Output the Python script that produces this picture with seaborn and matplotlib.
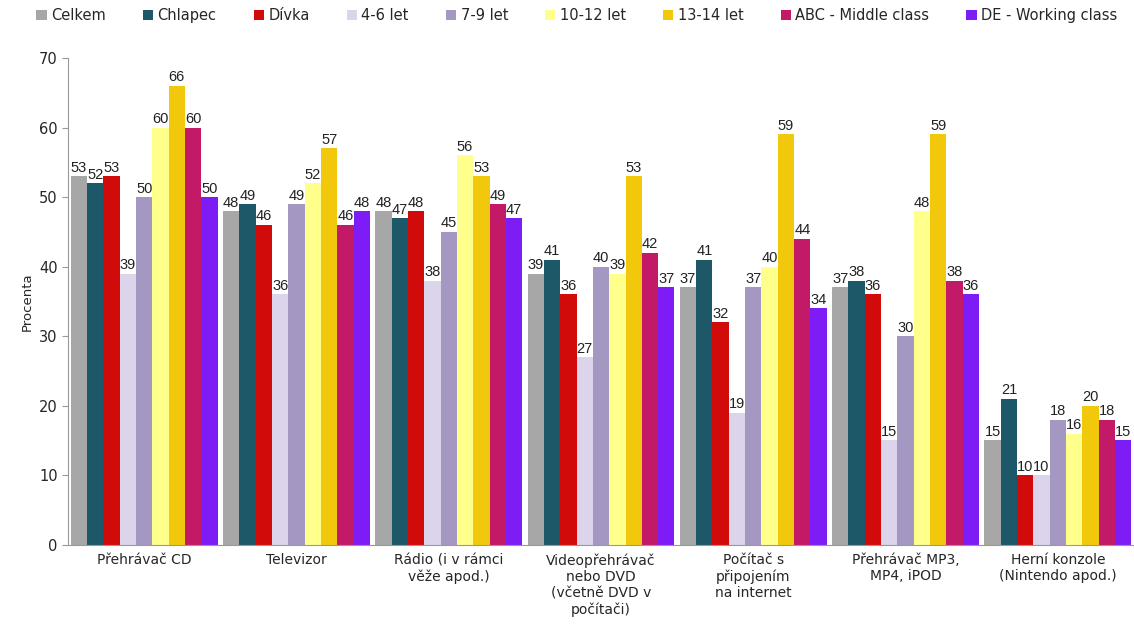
import pandas as pd
import matplotlib.pyplot as plt
import seaborn as sns
import numpy as np

# Data
categories = ['Přehrávač CD', 'Televizor', 'Rádio (i v rámci\nvěže apod.)',
              'Videopřehrávač\nnebo DVD\n(včetně DVD v\npočítači)',
              'Počítač s\npřipojením\nna internet', 'Přehrávač MP3,\nMP4, iPOD',
              'Herní konzole\n(Nintendo apod.)']
groups = ['Celkem', 'Chlapec', 'Dívka', '4-6 let', '7-9 let', '10-12 let',
          '13-14 let', 'ABC - Middle class', 'DE - Working class']

celkem = [53, 48, 48, 39, 37, 37, 15]
chlapec = [52, 49, 47, 41, 41, 38, 21]
divka = [53, 46, 48, 36, 32, 36, 10]
let_4_6 = [39, 36, 38, 27, 19, 15, 10]
let_7_9 = [50, 49, 45, 40, 37, 30, 18]
let_10_12 = [60, 52, 56, 39, 40, 48, 16]
let_13_14 = [66, 57, 53, 53, 59, 59, 20]
abc = [60, 46, 49, 42, 44, 38, 18]
de = [50, 48, 47, 37, 34, 36, 15]

colors = ['#a7a7a7', '#1d5868', '#d10a0a', '#dcd4ea', '#a497c2',
          '#ffff8c', '#f2c80c', '#c21a66', '#7e1cf6']

series = [celkem, chlapec, divka, let_4_6, let_7_9, let_10_12, let_13_14, abc, de]
rows = []
for g, vals in zip(groups, series):
    for c, v in zip(categories, vals):
        rows.append({'kategorie': c, 'skupina': g, 'procenta': v})
df = pd.DataFrame(rows)

sns.set_style('white')
plt.rcParams['font.family'] = ['DejaVu Sans']

fig = plt.figure(figsize=(11.34, 6.44), dpi=100)
ax = fig.add_axes([0.06, 0.154, 0.94, 0.756])

sns.barplot(data=df, x='kategorie', y='procenta', hue='skupina',
            hue_order=groups, order=categories, palette=colors,
            width=0.965, saturation=1, linewidth=0, edgecolor='none',
            ax=ax, legend=True)

# value labels (narrower font so neighbouring labels don't collide)
for cont in ax.containers:
    ax.bar_label(cont, fmt='%d', fontsize=10.5, padding=1, color='#222222',
                 family='Liberation Sans')

ax.set_ylim(0, 70)
ax.set_yticks(range(0, 71, 10))
ax.set_xlim(-0.5, 6.5)
ax.set_xlabel('')
ax.set_ylabel('Procenta', fontsize=9.5)

# separator ticks between categories
ax.set_xticks(np.arange(-0.5, 7, 1), minor=True)
ax.tick_params(axis='x', which='major', length=0, labelsize=10, pad=6)
ax.tick_params(axis='x', which='minor', length=5, color='#999999', direction='out')
ax.tick_params(axis='y', length=4, color='#999999', labelsize=10.5, left=True)

for s in ['top', 'right']:
    ax.spines[s].set_visible(False)
for s in ['left', 'bottom']:
    ax.spines[s].set_color('#999999')
    ax.spines[s].set_linewidth(0.8)

ax.legend(loc='upper left', bbox_to_anchor=(-0.042, 1.13), ncol=9, frameon=False,
          fontsize=10.5, handlelength=0.7, handleheight=0.7, handletextpad=0.3,
          columnspacing=2.55)

fig.savefig('out.png', dpi=100)
